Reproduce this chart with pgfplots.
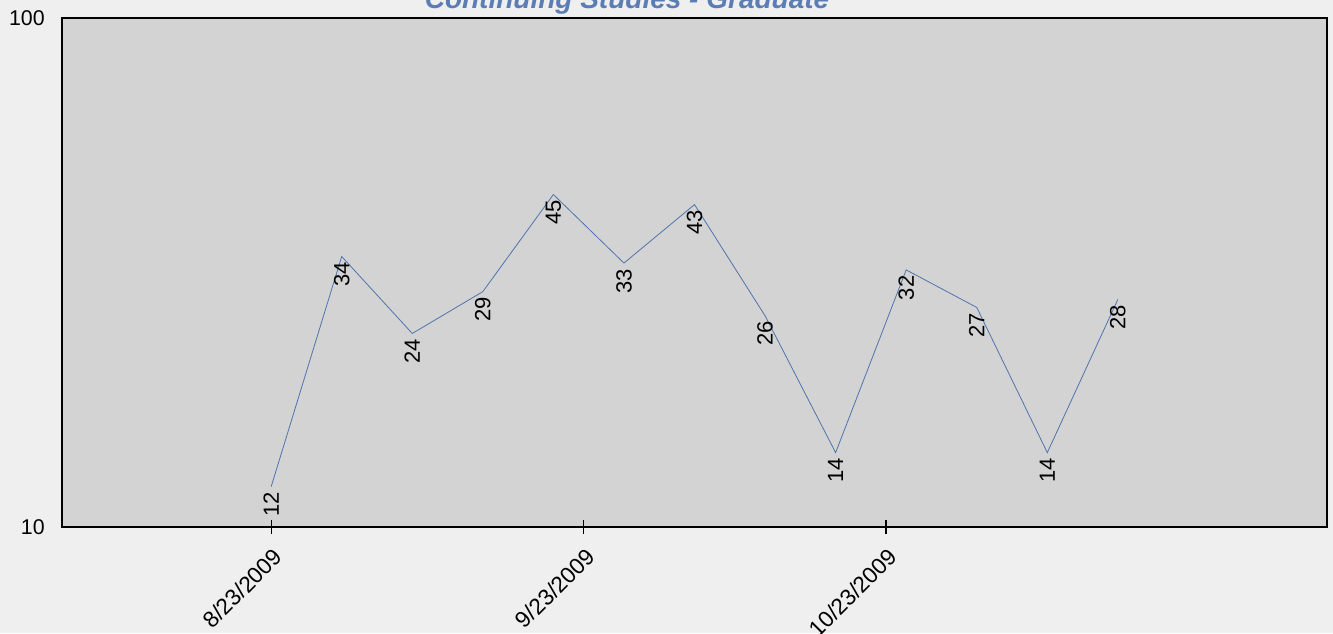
\documentclass[border=0pt]{standalone}
\usepackage{pgfplots}
\pgfplotsset{compat=1.18}
\usepackage{fontspec}
\setmainfont{Liberation Sans}
\definecolor{outerbg}{HTML}{EFEFEF}
\definecolor{plotbg}{HTML}{D3D3D3}
\definecolor{titleblue}{HTML}{5B7DB5}
\definecolor{lineblue}{HTML}{4F74AC}
\begin{document}
\begin{tikzpicture}
\useasboundingbox (0pt,0pt) rectangle (999.75pt,474.75pt);
\clip (0pt,0pt) rectangle (999.75pt,474.75pt);
\fill[outerbg] (0pt,0pt) rectangle (999.75pt,474.75pt);
\node[anchor=base, font=\fontsize{21}{25}\selectfont\bfseries\itshape, text=titleblue, inner sep=0pt] at (470.25pt,468pt) {Continuing Studies - Graduate};
\begin{axis}[
  at={(46.5pt,79.5pt)}, anchor=south west,
  scale only axis, width=948.75pt, height=381.75pt,
  ymode=log, ymin=10, ymax=100,
  xmin=-20.75, xmax=104.75,
  axis background/.style={fill=plotbg},
  axis line style={line width=1.2pt},
  ytick={10,100}, yticklabels={10,100},
  ytick style={draw=none},
  yticklabel style={font=\fontsize{16}{19}\selectfont, xshift=-4pt},
  xtick={0,31,61},
  xtick pos=left,
  xticklabels={8/23/2009,9/23/2009,10/23/2009},
  xticklabel style={font=\fontsize{17}{20}\selectfont, rotate=45, anchor=north east, inner sep=1pt, xshift=-5pt, yshift=-6pt},
  tick align=center, major tick length=11pt,
  xtick style={black, line width=0.8pt},
  clip=false,
]
\addplot[lineblue, line width=0.6pt, mark=none,
  nodes near coords, point meta=explicit symbolic,
  every node near coord/.style={rotate=90, anchor=east, font=\fontsize{16.5}{19}\selectfont, text=black, inner sep=4pt}]
 table[meta=label] {
x y label
0 12 12
7 34 34
14 24 24
21 29 29
28 45 45
35 33 33
42 43 43
49 26 26
56 14 14
63 32 32
70 27 27
77 14 14
84 28 28
};
\end{axis}
\end{tikzpicture}
\end{document}
